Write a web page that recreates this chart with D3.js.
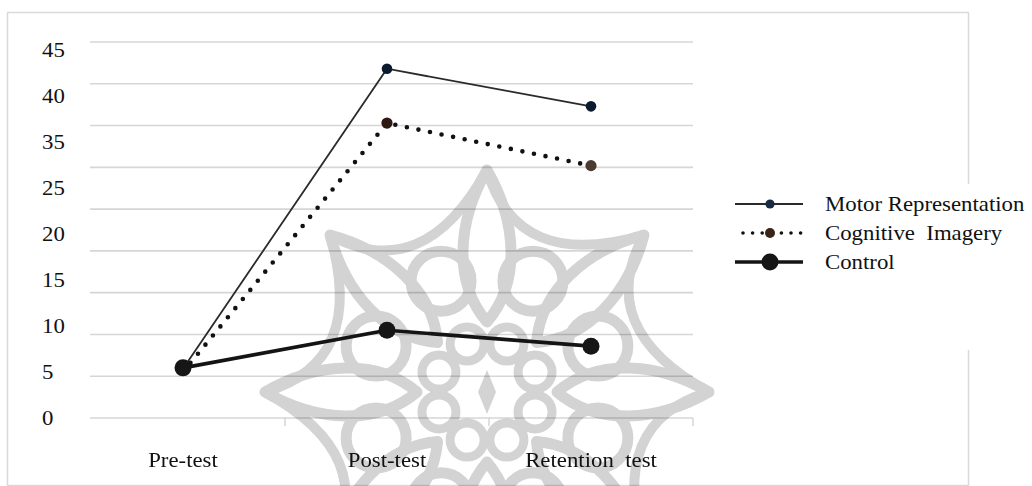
<!DOCTYPE html>
<html>
<head>
<meta charset="utf-8">
<script src="https://cdn.jsdelivr.net/npm/d3@7"></script>
<style>
  html, body { margin: 0; padding: 0; background: #fff; }
  svg { display: block; }
  text { font-family: "Liberation Serif", "Times New Roman", serif; fill: #111; white-space: pre; }
</style>
</head>
<body>
<svg id="chart" width="1032" height="486" font-family="Liberation Serif, serif"></svg>
<script>
// Test phases and mean scores per group
const categories = ["Pre-test", "Post-test", "Retention test"];
const motorValues = [5.9, 41.8, 37.3];
const cognitiveValues = [5.5, 35.3, 30.2];
const controlValues = [6.0, 10.5, 8.6];

// Horizontal grid levels and the printed axis labels
const gridValues = [0, 5, 10, 15, 20, 25, 30, 35, 40, 45];
const tickLabels = ["45", "40", "35", "25", "20", "15", "10", "5", "0"];

const seriesNames = ["Motor Representation", "Cognitive  Imagery", "Control"];

const svg = d3.select("#chart");
const FONT = 20, STRETCH = 1.14;

// Places a horizontally widened text label at (px, py)
function label(sel, px, py) {
  sel.attr("font-family", "Liberation Serif, serif")
    .attr("transform", (d, i) => `translate(${px(d, i)},${py(d, i)}) scale(${STRETCH},1)`);
}

// Outer frame
svg.append("rect")
  .attr("x", 7.5).attr("y", 12.5)
  .attr("width", 961).attr("height", 473)
  .attr("fill", "#fff")
  .attr("stroke", "#d9d9d9").attr("stroke-width", 1.5);

const x = d3.scaleBand().domain(categories).range([81, 693]);
const y = d3.scaleLinear().domain([0, 45]).range([418, 42]);
const labelY = d3.scalePoint().domain(tickLabels).range([50, 418]);
const cx = d => x(d) + x.bandwidth() / 2;

// Gridlines
svg.append("g")
  .selectAll("line")
  .data(gridValues)
  .join("line")
  .attr("x1", 90).attr("x2", 693)
  .attr("y1", d => y(d)).attr("y2", d => y(d))
  .attr("stroke", "#d6d6d6").attr("stroke-width", 1.6);

// Category boundary ticks below the baseline
svg.append("g")
  .selectAll("line")
  .data(categories)
  .join("line")
  .attr("x1", d => x(d) + x.bandwidth()).attr("x2", d => x(d) + x.bandwidth())
  .attr("y1", y(0)).attr("y2", y(0) + 8)
  .attr("stroke", "#d0d0d0").attr("stroke-width", 1.3);

// Ornamental rosette in the background
const wm = svg.append("g")
  .attr("transform", "translate(487,392)")
  .style("mix-blend-mode", "multiply")
  .attr("fill", "none")
  .attr("stroke", "#d3d3d3")
  .attr("stroke-linejoin", "round");
d3.range(8).forEach(i => {
  const deg = i * 45;
  const g = wm.append("g").attr("transform", `rotate(${deg})`);
  // long pointed petal
  g.append("path")
    .attr("d", "M0,-70 C34,-110 30,-170 0,-222 C-30,-170 -34,-110 0,-70Z")
    .attr("stroke-width", 11);
  // concave arc joining neighbouring petal tips
  g.append("path")
    .attr("d", "M0,-222 Q30,-120 157,-157")
    .attr("stroke-width", 10);
  // rings between petals
  const b = (deg + 22.5) * Math.PI / 180;
  wm.append("circle")
    .attr("cx", 120 * Math.sin(b)).attr("cy", -120 * Math.cos(b))
    .attr("r", 30).attr("stroke-width", 11);
  wm.append("circle")
    .attr("cx", 52 * Math.sin(b)).attr("cy", -52 * Math.cos(b))
    .attr("r", 17).attr("stroke-width", 9);
});
wm.append("path")
  .attr("d", "M0,-22 L9,0 L0,22 L-9,0Z")
  .attr("fill", "#d3d3d3").attr("stroke", "none");

// Y labels
svg.append("g")
  .selectAll("text")
  .data(tickLabels)
  .join("text")
  .attr("dy", "0.35em")
  .attr("font-size", FONT)
  .text(d => d)
  .call(label, () => 42, d => labelY(d));

// X labels
svg.append("g")
  .selectAll("text")
  .data(categories)
  .join("text")
  .attr("text-anchor", "middle")
  .attr("font-size", FONT)
  .text(d => d.replace(" ", "  "))
  .call(label, d => cx(d), () => 467);

const line = d3.line()
  .x((d, i) => cx(categories[i]))
  .y(d => y(d));

// Control: thick solid line
svg.append("path")
  .datum(controlValues)
  .attr("d", line)
  .attr("fill", "none")
  .attr("stroke", "#141414").attr("stroke-width", 3.6)
  .attr("stroke-linejoin", "round");

// Cognitive Imagery: dotted line
svg.append("path")
  .datum(cognitiveValues)
  .attr("d", line)
  .attr("fill", "none")
  .attr("stroke", "#111").attr("stroke-width", 4.6)
  .attr("stroke-linecap", "round")
  .attr("stroke-dasharray", "0 11.8");

// Motor Representation: thin solid line
svg.append("path")
  .datum(motorValues)
  .attr("d", line)
  .attr("fill", "none")
  .attr("stroke", "#2a2a2a").attr("stroke-width", 1.8);

svg.append("g")
  .selectAll("circle")
  .data(controlValues)
  .join("circle")
  .attr("cx", (d, i) => cx(categories[i]))
  .attr("cy", d => y(d))
  .attr("r", 8.5)
  .attr("fill", "#161616");

svg.append("g")
  .selectAll("circle")
  .data(cognitiveValues.slice(1))
  .join("circle")
  .attr("cx", (d, i) => cx(categories[i + 1]))
  .attr("cy", d => y(d))
  .attr("r", 5.6)
  .attr("fill", (d, i) => i === 0 ? "#2e1a10" : "#4a3a32");

svg.append("g")
  .selectAll("circle")
  .data(motorValues.slice(1))
  .join("circle")
  .attr("cx", (d, i) => cx(categories[i + 1]))
  .attr("cy", d => y(d))
  .attr("r", 5.3)
  .attr("fill", "#0c1a30");

// Legend
const legend = svg.append("g");
legend.append("rect")
  .attr("x", 722).attr("y", 184).attr("width", 310).attr("height", 166)
  .attr("fill", "#fff");

const legendRowY = d3.scalePoint().domain(seriesNames).range([204, 262]);
const lx1 = 735, lx2 = 803, lmx = 770;

const rowM = legendRowY(seriesNames[0]);
legend.append("line").attr("x1", lx1).attr("x2", lx2).attr("y1", rowM).attr("y2", rowM)
  .attr("stroke", "#2a2a2a").attr("stroke-width", 1.8);
legend.append("circle").attr("cx", lmx).attr("cy", rowM).attr("r", 4.6).attr("fill", "#1a2a44");

const rowC = legendRowY(seriesNames[1]);
legend.append("line").attr("x1", lx1 + 8).attr("x2", lx2).attr("y1", rowC).attr("y2", rowC)
  .attr("stroke", "#111").attr("stroke-width", 3.6)
  .attr("stroke-linecap", "round").attr("stroke-dasharray", "0 9.6");
legend.append("circle").attr("cx", lmx).attr("cy", rowC).attr("r", 5).attr("fill", "#3a2418");

const rowK = legendRowY(seriesNames[2]);
legend.append("line").attr("x1", lx1).attr("x2", lx2).attr("y1", rowK).attr("y2", rowK)
  .attr("stroke", "#141414").attr("stroke-width", 3.4);
legend.append("circle").attr("cx", lmx).attr("cy", rowK).attr("r", 8.5).attr("fill", "#161616");

legend.selectAll("text.lg")
  .data(seriesNames)
  .join("text")
  .attr("class", "lg")
  .attr("font-size", FONT)
  .text(d => d)
  .call(label, () => 825, d => legendRowY(d) + 7);
</script>
</body>
</html>
